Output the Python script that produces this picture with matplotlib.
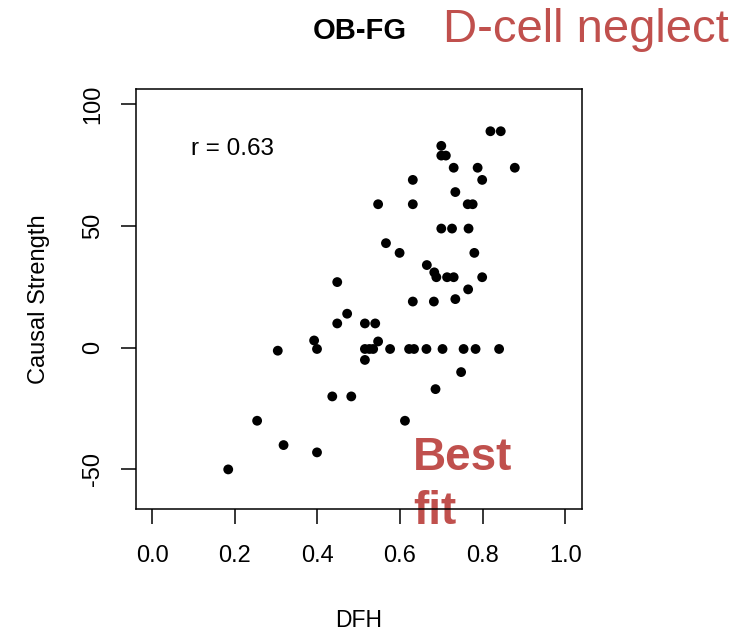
import matplotlib.pyplot as plt

plt.rcParams['font.family'] = ['Liberation Sans', 'DejaVu Sans']

# DFH (x) vs causal strength (y)
dfh = [0.819, 0.844, 0.700, 0.700, 0.711, 0.730, 0.788, 0.878, 0.631, 0.799,
       0.734, 0.547, 0.631, 0.764, 0.776, 0.700, 0.726, 0.766, 0.566, 0.599,
       0.780, 0.665, 0.683, 0.688, 0.714, 0.730, 0.799, 0.765, 0.631, 0.682,
       0.734, 0.448, 0.515, 0.540, 0.547,
       0.515, 0.526, 0.535, 0.576, 0.622, 0.634, 0.664, 0.703, 0.754, 0.783, 0.840,
       0.515, 0.748, 0.686, 0.612, 0.472, 0.448, 0.392, 0.399, 0.304, 0.436,
       0.482, 0.254, 0.318, 0.399, 0.184]
strength = [89, 89, 83, 79, 79, 74, 74, 74, 69, 69,
            64, 59, 59, 59, 59, 49, 49, 49, 43, 39,
            39, 34, 31, 29, 29, 29, 29, 24, 19, 19,
            20, 27, 10, 10, 2.6,
            -0.5, -0.5, -0.5, -0.5, -0.5, -0.5, -0.5, -0.5, -0.5, -0.5, -0.5,
            -5, -10, -17, -30, 14, 10, 3, -0.5, -1.2, -20,
            -20, -30, -40, -43, -50]

xticks = [0.0, 0.2, 0.4, 0.6, 0.8, 1.0]
xtick_labels = ['0.0', '0.2', '0.4', '0.6', '0.8', '1.0']
yticks = [-50, 0, 50, 100]
ytick_labels = ['-50', '0', '50', '100']

red = '#C0504D'

fig = plt.figure(figsize=(7.47, 6.36), dpi=100)
ax = fig.add_axes([0.1817, 0.1992, 0.597, 0.661])
ax.patch.set_alpha(0)  # so the "fit" label can sit underneath the axis line

ax.scatter(dfh, strength, s=50, color='black', edgecolors='none', zorder=3)

ax.set_xlim(-0.04, 1.04)
ax.set_ylim(-66.4, 106.4)
ax.set_xticks(xticks)
ax.set_xticklabels(xtick_labels)
ax.set_yticks(yticks)
ax.set_yticklabels(ytick_labels, rotation=90, va='center')

for sp in ax.spines.values():
    sp.set_linewidth(1.1)
ax.tick_params(axis='both', direction='out', length=10.8, width=1.1, labelsize=17)
ax.tick_params(axis='x', pad=15)
ax.tick_params(axis='y', pad=12)

ax.set_xlabel('DFH', fontsize=16.5, labelpad=30)
ax.set_ylabel('Causal Strength', fontsize=17, labelpad=23)

ax.text(0.095, 81.5, 'r = 0.63', fontsize=17.5, ha='left', va='center')

fig.text(360 / 747, 1 - 31 / 636, 'OB-FG', fontsize=21, fontweight='bold',
         ha='center', va='center')
fig.text(443 / 747, 1 - 30 / 636, 'D-cell neglect', fontsize=34, color=red,
         ha='left', va='center')
fig.text(413 / 747, 1 - 470 / 636, 'Best', fontsize=33, fontweight='bold',
         color=red, ha='left', va='baseline', zorder=-1)
fig.text(413 / 747, 1 - 524 / 636, 'fit', fontsize=33, fontweight='bold',
         color=red, ha='left', va='baseline', zorder=-1)

fig.savefig('out.png', dpi=100, facecolor='white')
